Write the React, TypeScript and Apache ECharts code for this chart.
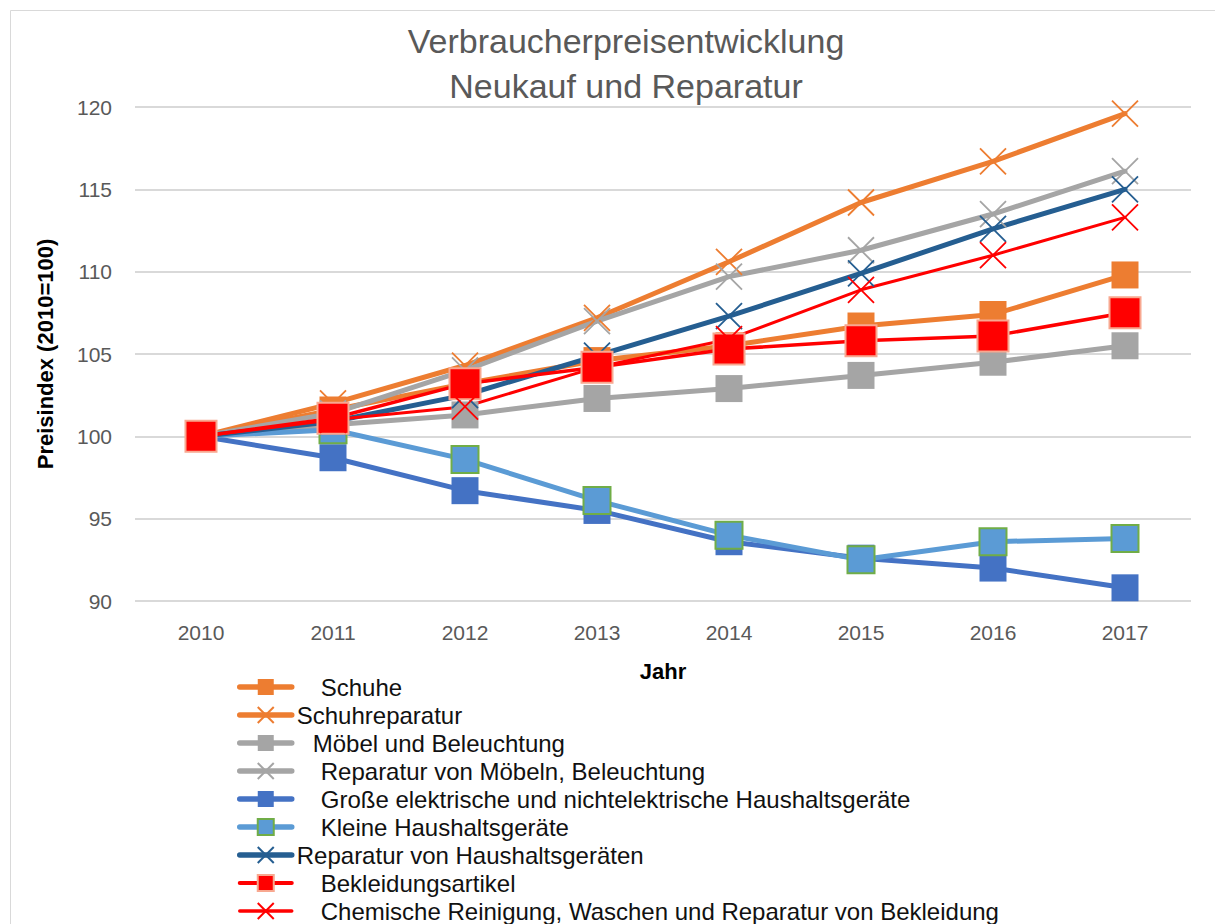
import React, { useEffect, useRef } from "react";
import * as echarts from "echarts";

const years = ["2010", "2011", "2012", "2013", "2014", "2015", "2016", "2017"];
const schuhe = [100, 101.6, 103.2, 104.6, 105.5, 106.7, 107.4, 109.8];
const schuhreparatur = [100, 102.0, 104.3, 107.2, 110.6, 114.2, 116.7, 119.6];
const moebel = [100, 100.7, 101.3, 102.3, 102.9, 103.7, 104.5, 105.5];
const repMoebel = [100, 101.4, 104.0, 107.0, 109.7, 111.3, 113.5, 116.1];
const grosseGeraete = [100, 98.7, 96.7, 95.5, 93.6, 92.6, 92.0, 90.8];
const kleineGeraete = [100, 100.4, 98.6, 96.1, 94.0, 92.5, 93.6, 93.8];
const repHaushalt = [100, 100.9, 102.5, 104.9, 107.3, 109.9, 112.6, 115.0];
const bekleidung = [100, 101.1, 103.2, 104.2, 105.3, 105.8, 106.1, 107.5];
const chemReinigung = [100, 101.0, 101.8, 104.2, 105.9, 108.9, 111.0, 113.3];

const titleLines = ["Verbraucherpreisentwicklung", "Neukauf und Reparatur"];
const xAxisName = "Jahr";
const yAxisName = "Preisindex (2010=100)";

const FONT = "'Liberation Sans', Arial, sans-serif";
const XPATH = "path://M0,0L10,10M10,0L0,10";

export default function App() {
  const ref = useRef<HTMLDivElement>(null);
  useEffect(() => {
    document.body.style.margin = "0";
    const chart = echarts.init(ref.current!, null, { renderer: "svg" });

    const mk = (
      name: string,
      data: number[],
      color: string,
      width: number,
      kind: "sq" | "x",
      size: number,
      border?: string,
      pad = 0
    ) => ({ name, data, color, width, kind, size, border, pad });

    const defs = [
      mk("Schuhe", schuhe, "#ED7D31", 5, "sq", 27, undefined, 24),
      mk("Schuhreparatur", schuhreparatur, "#ED7D31", 5, "x", 26, undefined, 0),
      mk("Möbel und Beleuchtung", moebel, "#A5A5A5", 5, "sq", 27, undefined, 16),
      mk("Reparatur von Möbeln, Beleuchtung", repMoebel, "#A5A5A5", 5, "x", 26, undefined, 24),
      mk("Große elektrische und nichtelektrische Haushaltsgeräte", grosseGeraete, "#4472C4", 5, "sq", 27, undefined, 24),
      mk("Kleine Haushaltsgeräte", kleineGeraete, "#5B9BD5", 5, "sq", 27, "#70AD47", 24),
      mk("Reparatur von Haushaltsgeräten", repHaushalt, "#255E91", 5, "x", 26, undefined, 0),
      mk("Bekleidungsartikel", bekleidung, "#FF0000", 3.5, "sq", 31, "#F8A890", 24),
      mk("Chemische Reinigung, Waschen und Reparatur von Bekleidung", chemReinigung, "#FF0000", 3, "x", 26, undefined, 24),
    ];

    const padMap: Record<string, number> = {};
    defs.forEach((d) => (padMap[d.name] = d.pad));

    const series = defs.map((d) => ({
      name: d.name,
      type: "line",
      data: d.data,
      symbol: d.kind === "sq" ? "rect" : XPATH,
      symbolSize: d.size,
      showAllSymbol: true,
      lineStyle: { color: d.color, width: d.width, cap: "round", join: "round" },
      itemStyle:
        d.kind === "sq"
          ? {
              color: d.color,
              borderColor: d.border || d.color,
              borderWidth: d.border ? 2 : 0,
            }
          : { color: d.color, borderColor: d.color, borderWidth: 1.8 },
      emphasis: { disabled: true },
      z: 2,
    }));

    const rich: Record<string, any> = {
      n: { fontSize: 24, fontFamily: FONT, color: "#111" },
      p24: { width: 24, fontSize: 24 },
      p16: { width: 16, fontSize: 24 },
    };

    chart.setOption({
      animation: false,
      backgroundColor: "#fff",
      textStyle: { fontFamily: FONT },
      graphic: [
        {
          type: "rect",
          shape: { x: 10.5, y: 10.5, width: 1400, height: 1100 },
          style: { fill: "none", stroke: "#D9D9D9", lineWidth: 1 },
          z: -10,
          silent: true,
        },
        {
          type: "text",
          x: 626,
          y: 41,
          style: {
            text: titleLines[0],
            font: `34px ${FONT}`,
            fill: "#595959",
            textAlign: "center",
            textVerticalAlign: "middle",
          },
        },
        {
          type: "text",
          x: 626,
          y: 86,
          style: {
            text: titleLines[1],
            font: `34px ${FONT}`,
            fill: "#595959",
            textAlign: "center",
            textVerticalAlign: "middle",
          },
        },
      ],
      grid: { left: 135, right: 24, top: 107, bottom: 323, containLabel: false },
      xAxis: {
        type: "category",
        data: years,
        boundaryGap: true,
        name: xAxisName,
        nameLocation: "middle",
        nameGap: 59,
        nameTextStyle: { fontSize: 22, fontWeight: "bold", color: "#000", fontFamily: FONT },
        axisLine: { show: false },
        axisTick: { show: false },
        axisLabel: { fontSize: 21, color: "#595959", margin: 21, fontFamily: FONT },
      },
      yAxis: {
        type: "value",
        min: 90,
        max: 120,
        interval: 5,
        name: yAxisName,
        nameLocation: "middle",
        nameGap: 79,
        nameTextStyle: { fontSize: 22, fontWeight: "bold", color: "#000", fontFamily: FONT },
        axisLine: { show: false },
        axisTick: { show: false },
        axisLabel: { fontSize: 21, color: "#595959", margin: 23, fontFamily: FONT },
        splitLine: { lineStyle: { color: "#D9D9D9", width: 2 } },
      },
      legend: {
        orient: "vertical",
        left: 237,
        top: 675,
        height: 400,
        padding: 0,
        itemWidth: 52,
        itemHeight: 20,
        itemGap: 4,
        selectedMode: false,
        textStyle: { fontSize: 24, color: "#111", fontFamily: FONT, rich },
        formatter: (name: string) => {
          const p = padMap[name];
          if (p === 24) return `{p24|}{n|${name}}`;
          if (p === 16) return `{p16|}{n|${name}}`;
          return `{n|${name}}`;
        },
        data: defs.map((d) => ({
          name: d.name,
          lineStyle: { color: d.color, width: d.width + 0.5 },
        })),
      },
      series,
    });
    return () => chart.dispose();
  }, []);
  return <div ref={ref} style={{ width: 1215, height: 924 }} />;
}
